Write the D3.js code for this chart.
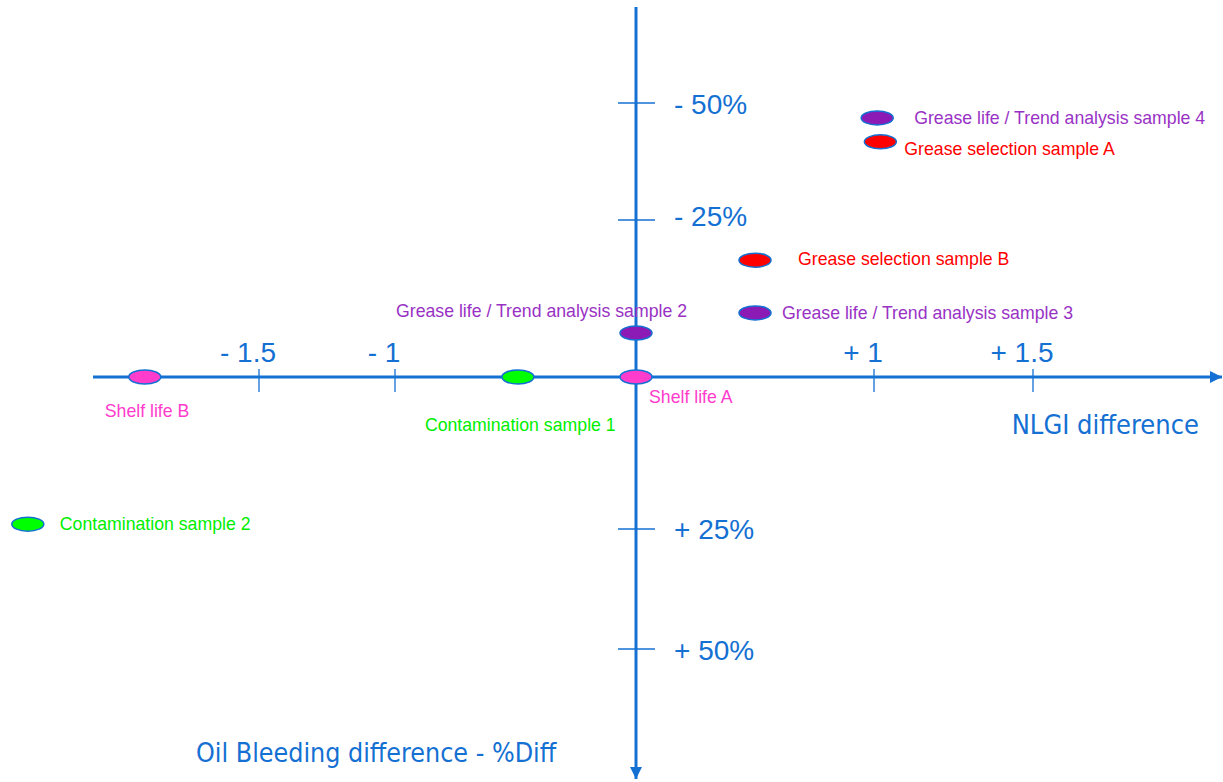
<!DOCTYPE html>
<html>
<head>
<meta charset="utf-8">
<script src="https://cdn.jsdelivr.net/npm/d3@7"></script>
<style>
  body { margin: 0; background: #fff; }
  svg { display: block; }
</style>
</head>
<body>
<svg id="chart" width="1223" height="782"></svg>
<script>
// data
const nlgiTicks = [-1.5, -1, 1, 1.5];
const nlgiTickLabels = ["- 1.5", "- 1", "+ 1", "+ 1.5"];
const oilTicks = [-50, -25, 25, 50];
const oilTickLabels = ["- 50%", "- 25%", "+ 25%", "+ 50%"];

const sampleNames = [
    "Grease life / Trend analysis sample 4",
    "Grease selection sample A",
    "Grease selection sample B",
    "Grease life / Trend analysis sample 3",
    "Grease life / Trend analysis sample 2",
    "Shelf life A",
    "Shelf life B",
    "Contamination sample 1",
    "Contamination sample 2"
];
const sampleGroup = ["trend", "selection", "selection", "trend", "trend", "shelf", "shelf", "contamination", "contamination"];
const nlgiDiff = [1.01, 1.02, 0.5, 0.5, 0.0, 0.0, -1.92, -0.49, -2.35];
const oilDiff = [-46.8, -41.7, -18.6, -10.2, -7.0, 0, 0, 0, 24.2];

// layout: label offsets from the point (px)
const labelDx = [37, 24, 43, 27, -240, 13, -40, -93, 32];
const labelDy = [0, 7, -1, 0, -22, 20, 34, 48, 0];
const yLabelDy = [1, -4, 0, 1];

const fillColor = {trend: "#8c1ab4", selection: "#ff0000", shelf: "#ff3ccc", contamination: "#00ff00"};
const textColor = {trend: "#9932c4", selection: "#ff0000", shelf: "#ff3ccc", contamination: "#00ee00"};
const axisBlue = "#1470d2";

const svg = d3.select("#chart");

// the original axes are not evenly spaced, so piecewise scales
const x = d3.scaleLinear()
    .domain([-1.5, -1, 0, 1, 1.5])
    .range([259, 395, 636, 874, 1033]);
const y = d3.scaleLinear()
    .domain([-50, -25, 0, 25, 50])
    .range([103, 220, 377, 529, 649]);

const defs = svg.append("defs");
defs.append("marker")
    .attr("id", "arrow")
    .attr("viewBox", "0 0 10 10")
    .attr("refX", 10).attr("refY", 5)
    .attr("markerWidth", 4).attr("markerHeight", 4)
    .attr("markerUnits", "strokeWidth")
    .attr("orient", "auto")
    .append("path")
    .attr("d", "M0,0L10,5L0,10Z")
    .attr("fill", axisBlue);

// ticks
svg.selectAll(".xtick")
    .data(nlgiTicks)
    .join("line")
    .attr("x1", d => x(d)).attr("x2", d => x(d))
    .attr("y1", y(0) - 8).attr("y2", y(0) + 15)
    .attr("stroke", axisBlue)
    .attr("stroke-width", 1.3);

svg.selectAll(".ytick")
    .data(oilTicks)
    .join("line")
    .attr("x1", x(0) - 18).attr("x2", x(0) + 19)
    .attr("y1", d => y(d)).attr("y2", d => y(d))
    .attr("stroke", axisBlue)
    .attr("stroke-width", 1.3);

// axes
svg.append("line")
    .attr("x1", 93).attr("x2", 1222)
    .attr("y1", y(0)).attr("y2", y(0))
    .attr("stroke", axisBlue)
    .attr("stroke-width", 3)
    .attr("marker-end", "url(#arrow)");

svg.append("line")
    .attr("x1", x(0)).attr("x2", x(0))
    .attr("y1", 7).attr("y2", 779)
    .attr("stroke", axisBlue)
    .attr("stroke-width", 3)
    .attr("marker-end", "url(#arrow)");

// tick labels
svg.selectAll(".xlabel")
    .data(nlgiTicks)
    .join("text")
    .attr("x", d => x(d) - 11)
    .attr("y", y(0) - 15)
    .attr("text-anchor", "middle")
    .attr("font-family", "Liberation Sans, Arial, sans-serif")
    .attr("font-size", 28)
    .attr("fill", axisBlue)
    .text((d, i) => nlgiTickLabels[i]);

svg.selectAll(".ylabel")
    .data(oilTicks)
    .join("text")
    .attr("x", x(0) + 38)
    .attr("y", (d, i) => y(d) + 10 + yLabelDy[i])
    .attr("font-family", "Liberation Sans, Arial, sans-serif")
    .attr("font-size", 28)
    .attr("fill", axisBlue)
    .text((d, i) => oilTickLabels[i]);

// axis titles
svg.append("text")
    .attr("x", 1199).attr("y", 434)
    .attr("text-anchor", "end")
    .attr("font-family", "DejaVu Sans Condensed, sans-serif")
    .attr("font-size", 27)
    .attr("fill", axisBlue)
    .text("NLGI difference");

svg.append("text")
    .attr("x", 196).attr("y", 762)
    .attr("font-family", "DejaVu Sans Condensed, sans-serif")
    .attr("font-size", 26.6)
    .attr("fill", axisBlue)
    .text("Oil Bleeding difference - %Diff");

// samples
const samples = sampleNames.map((name, i) => ({
    name: name, group: sampleGroup[i], nlgi: nlgiDiff[i], oil: oilDiff[i],
    dx: labelDx[i], dy: labelDy[i]
}));

svg.selectAll(".pt")
    .data(samples)
    .join("ellipse")
    .attr("cx", d => x(d.nlgi))
    .attr("cy", d => y(d.oil))
    .attr("rx", 16)
    .attr("ry", 7)
    .attr("fill", d => fillColor[d.group])
    .attr("stroke", axisBlue)
    .attr("stroke-width", 1.5);

svg.selectAll(".ptlabel")
    .data(samples)
    .join("text")
    .attr("x", d => x(d.nlgi) + d.dx)
    .attr("y", d => y(d.oil) + d.dy + 6)
    .attr("font-family", "Liberation Sans, Arial, sans-serif")
    .attr("font-size", 17.7)
    .attr("fill", d => textColor[d.group])
    .text(d => d.name);
</script>
</body>
</html>
